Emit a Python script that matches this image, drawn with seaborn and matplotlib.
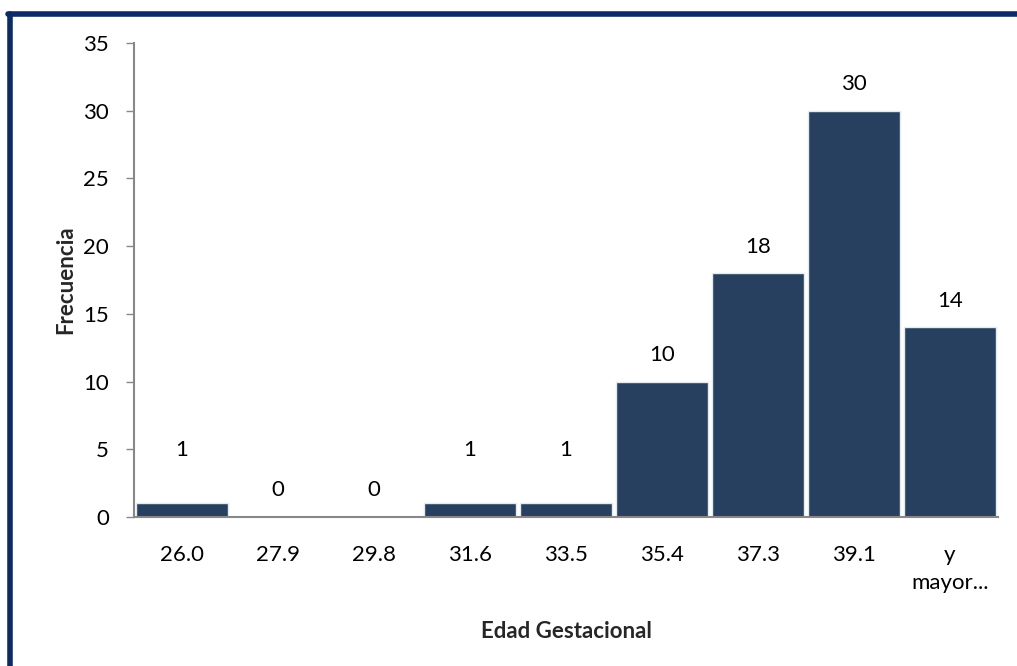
import pandas as pd
import seaborn as sns
import matplotlib.pyplot as plt
from matplotlib.lines import Line2D

# data
bins = ["26.0", "27.9", "29.8", "31.6", "33.5", "35.4", "37.3", "39.1", "y\nmayor..."]
freq = [1, 0, 0, 1, 1, 10, 18, 30, 14]

df = pd.DataFrame({"Edad Gestacional": bins, "Frecuencia": freq})

sns.set_theme(style="white")
plt.rcParams["font.family"] = ["Lato", "DejaVu Sans"]

fig = plt.figure(figsize=(10.17, 6.66), dpi=100)
ax = fig.add_axes([0.1318, 0.2237, 0.8495, 0.7117])

sns.barplot(data=df, x="Edad Gestacional", y="Frecuencia", color="#27405f",
            saturation=1, width=0.96, edgecolor="#e6e9ed", linewidth=1.0, ax=ax)

# value labels above bars (Excel puts the tiny "1" labels a bit higher)
bars = ax.containers[0]
ax.bar_label(bars, labels=[str(v) if v != 1 else "" for v in freq], padding=12,
             fontsize=16, color="black")
ax.bar_label(bars, labels=[str(v) if v == 1 else "" for v in freq], padding=31,
             fontsize=16, color="black")

ax.set_ylim(0, 35)
ax.set_yticks(range(0, 36, 5))
ax.set_xlim(-0.5, len(bins) - 0.5)
ax.tick_params(axis="y", which="both", left=True, length=6, width=1,
               color="#888888", labelsize=16, pad=12, labelcolor="black")
ax.tick_params(axis="x", bottom=False, labelsize=16, pad=14, labelcolor="black")
for lbl in ax.get_xticklabels():
    lbl.set_linespacing(1.5)

for s in ["top", "right"]:
    ax.spines[s].set_visible(False)
for s in ["left", "bottom"]:
    ax.spines[s].set_color("#888888")
    ax.spines[s].set_linewidth(1.5)

ax.set_xlabel("Edad Gestacional", fontsize=16, fontweight="bold", labelpad=20)
ax.set_ylabel("Frecuencia", fontsize=16, fontweight="bold", labelpad=5)

# navy frame (left and top edges visible)
navy = "#0b2a66"
fig.add_artist(Line2D([0.0098, 0.0098], [0, 0.9790], transform=fig.transFigure,
                      color=navy, linewidth=4))
fig.add_artist(Line2D([0.0079, 1.0], [0.9790, 0.9790], transform=fig.transFigure,
                      color=navy, linewidth=4))

plt.savefig("out.png", dpi=100)
